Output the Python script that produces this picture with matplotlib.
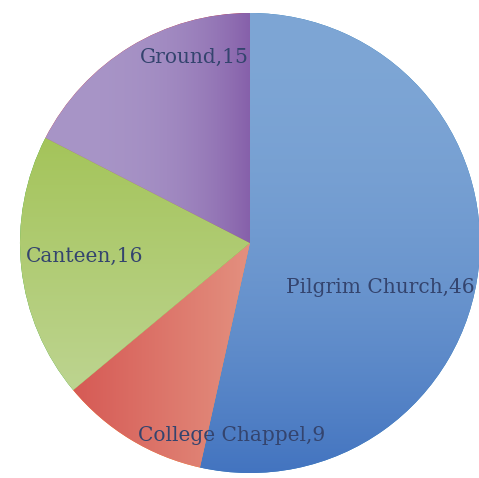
import matplotlib.pyplot as plt
import numpy as np
from matplotlib.colors import to_rgb

labels = ['Pilgrim Church', 'College Chappel', 'Canteen', 'Ground']
values = [46, 9, 16, 15]

# gradient end colours per slice: (colour A, colour B, direction, ramp power)
grads = [('#7ea6d5', '#4374c0', 'v', 2.0),
         ('#d65a55', '#e3907f', 'h', 1.0),
         ('#a4c45a', '#bdd490', 'v', 1.0),
         ('#a895c7', '#8660aa', 'h', 3.0)]

# label spots in axes data units (pie radius = 1)
label_pos = [(0.565, -0.195), (-0.08, -0.835), (-0.72, -0.06), (-0.24, 0.805)]

fig = plt.figure(figsize=(4.79, 4.78), dpi=100)
ax = fig.add_axes([20/479, 5/478, 460/479, 460/478])

wedges, _ = ax.pie(values, startangle=90, counterclock=False, radius=1,
                   wedgeprops=dict(linewidth=0))

n = 300
yy, xx = np.mgrid[1:-1:n*1j, -1:1:n*1j]
for w, (c1, c2, d, p) in zip(wedges, grads):
    c1, c2 = np.array(to_rgb(c1)), np.array(to_rgb(c2))
    # stretch the ramp to the slice's own extent
    bb = w.get_path().get_extents()
    if d == 'v':
        t = np.clip((bb.y1 - yy) / (bb.y1 - bb.y0), 0, 1)
    else:
        t = np.clip((xx - bb.x0) / (bb.x1 - bb.x0), 0, 1)
    t = t ** p
    img = c1[None, None, :] * (1 - t[..., None]) + c2[None, None, :] * t[..., None]
    im = ax.imshow(img, extent=[-1, 1, -1, 1], zorder=2, interpolation='bilinear')
    im.set_clip_path(w)

for lab, v, (x, y) in zip(labels, values, label_pos):
    ax.text(x, y, f'{lab},{v}', ha='center', va='center', fontsize=14.5,
            family='DejaVu Serif', color='#34446e', zorder=5)

ax.set_xlim(-1, 1)
ax.set_ylim(-1, 1)
ax.set_aspect('auto')
ax.axis('off')
fig.savefig('out.png', dpi=100)
